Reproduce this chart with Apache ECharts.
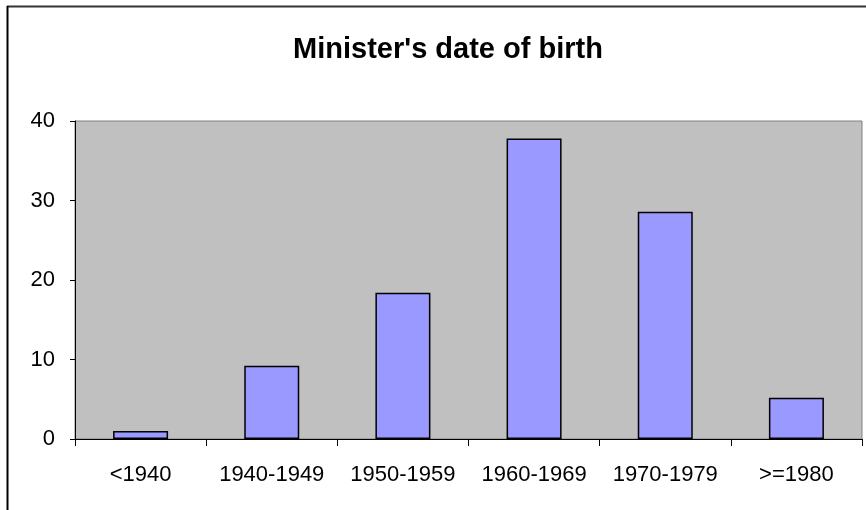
<!DOCTYPE html>
<html>
<head>
<meta charset="utf-8">
<script src="https://cdn.jsdelivr.net/npm/echarts@6/dist/echarts.min.js"></script>
<style>
  html, body { margin: 0; padding: 0; background: #fff; }
  #chart { width: 866px; height: 510px; }
</style>
</head>
<body>
<div id="chart"></div>
<script>
const categories = ['<1940', '1940-1949', '1950-1959', '1960-1969', '1970-1979', '>=1980'];
const counts = [1, 9.2, 18.4, 37.8, 28.6, 5.2];
const yTicks = [0, 10, 20, 30, 40];

const chart = echarts.init(document.getElementById('chart'));

const fontFamily = '"Liberation Sans", Arial, sans-serif';

chart.setOption({
  animation: false,
  backgroundColor: '#fff',
  title: {
    text: "Minister's date of birth",
    left: 443,
    top: 30,
    textAlign: 'center',
    textStyle: { fontFamily: fontFamily, fontSize: 29, fontWeight: 'bold', color: '#000' }
  },
  graphic: [
    // outer chart frame (only top and left edges show in the picture)
    { type: 'line', shape: { x1: 7, y1: 6.5, x2: 866, y2: 6.5 }, style: { stroke: '#333', lineWidth: 2 } },
    { type: 'line', shape: { x1: 7.5, y1: 6, x2: 7.5, y2: 510 }, style: { stroke: '#000', lineWidth: 2 } }
  ],
  grid: {
    left: 75,
    top: 121,
    right: 4,
    bottom: 71,
    show: true,
    backgroundColor: '#c0c0c0',
    borderColor: '#808080',
    borderWidth: 1
  },
  xAxis: {
    type: 'category',
    data: categories,
    axisLine: { lineStyle: { color: '#000', width: 1 } },
    axisTick: { show: true, length: 7, alignWithLabel: false, lineStyle: { color: '#000' } },
    axisLabel: { color: '#000', fontSize: 22, fontFamily: fontFamily, margin: 25, interval: 0 },
    splitLine: { show: false }
  },
  yAxis: {
    type: 'value',
    min: yTicks[0],
    max: yTicks[yTicks.length - 1],
    interval: 10,
    axisLine: { show: true, lineStyle: { color: '#000', width: 1 } },
    axisTick: { show: true, length: 5, lineStyle: { color: '#000' } },
    axisLabel: { color: '#000', fontSize: 22, fontFamily: fontFamily, margin: 20 },
    splitLine: { show: false }
  },
  series: [{
    type: 'bar',
    data: counts,
    barWidth: 55,
    itemStyle: { color: '#9999ff', borderColor: '#000', borderWidth: 1.5 }
  }]
});
</script>
</body>
</html>
